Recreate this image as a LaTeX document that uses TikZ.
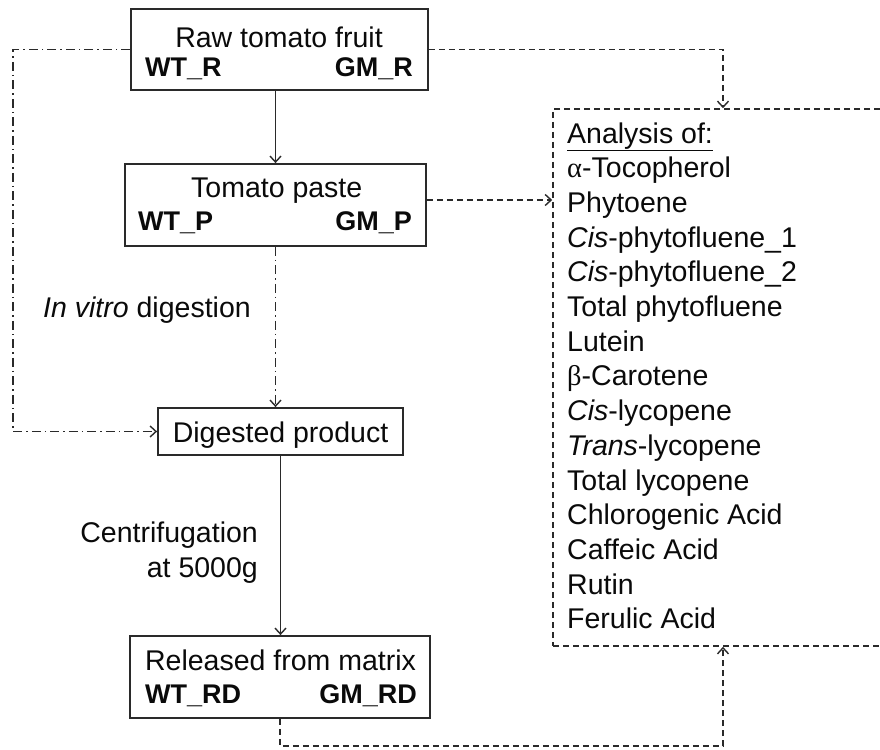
\documentclass[tikz,border=0pt]{standalone}
\usepackage{fontspec}
\setmainfont{Liberation Sans}
\newfontfamily\grk{Liberation Serif}
\usetikzlibrary{arrows.meta}
\definecolor{ln}{HTML}{2A2A2A}
\definecolor{tx}{HTML}{0A0A0A}
\tikzset{
  box/.style={draw=ln, line width=1.8pt, rectangle, inner sep=0pt, fill=none},
  txt/.style={inner sep=0pt, text=tx, font=\fontsize{28.5}{34}\selectfont},
  btxt/.style={inner sep=0pt, text=tx, font=\fontsize{27}{32}\bfseries},
  arr/.style={-{Straight Barb[length=6pt,width=11pt,line width=1.4pt]}},
  solidline/.style={draw=ln, line width=1.6pt},
  dashline/.style={draw=ln, line width=1.6pt, dash pattern=on 6pt off 4pt},
  dotdash/.style={draw=ln, line width=1.5pt, dash pattern=on 9pt off 4pt on 1.5pt off 4pt}
}
\begin{document}
\begin{tikzpicture}[x=1pt,y=-1pt]
\useasboundingbox (0,0) rectangle (880,749);
\clip (0,0) rectangle (880,749);
\fill[white] (0,0) rectangle (880,749);

% boxes
\node[box, minimum width=297pt, minimum height=81pt] (raw) at (279.5,49.5) {};
\node[box, minimum width=301pt, minimum height=82pt] (paste) at (275.5,205) {};
\node[box, minimum width=245pt, minimum height=47pt] (dig) at (280.5,431.5) {};
\node[box, minimum width=300pt, minimum height=82pt] (rel) at (280,677) {};
\node[box, dash pattern=on 6pt off 4pt, line width=1.6pt, minimum width=360pt, minimum height=537pt] (ana) at (733,377.5) {};

% texts in boxes
\node[txt, anchor=base] (rawt) at (279,48) {Raw tomato fruit};
\node[btxt, anchor=base west] (wtr) at (145,77) {WT\_R};
\node[btxt, anchor=base east] (gmr) at (413,77) {GM\_R};
\node[txt, anchor=base] (pastet) at (276.7,197) {Tomato paste};
\node[btxt, anchor=base west] (wtp) at (138,230) {WT\_P};
\node[btxt, anchor=base east] (gmp) at (412,230) {GM\_P};
\node[txt, anchor=base] (digt) at (280.5,442) {Digested product};
\node[txt, anchor=base] (relt) at (280.5,670) {Released from matrix};
\node[btxt, anchor=base west] (wtrd) at (145,703) {WT\_RD};
\node[btxt, anchor=base east] (gmrd) at (417,703) {GM\_RD};

% labels
\node[txt, anchor=base west] (invitro) at (43,317) {\textit{In vitro} digestion};
\node[txt, anchor=base east] (cent1) at (258,542) {Centrifugation};
\node[txt, anchor=base east] (cent2) at (258,577) {at 5000g};

% analysis list
\foreach \t [count=\i from 0] in {
  {\underline{Analysis of:}},
  {{\grk α}-Tocopherol},
  {Phytoene},
  {\textit{Cis}-phytofluene\_1},
  {\textit{Cis}-phytofluene\_2},
  {Total phytofluene},
  {Lutein},
  {{\grk β}-Carotene},
  {\textit{Cis}-lycopene},
  {\textit{Trans}-lycopene},
  {Total lycopene},
  {Chlorogenic Acid},
  {Caffeic Acid},
  {Rutin},
  {Ferulic Acid}}
{
  \node[txt, anchor=base west] (l\i) at (567,143+34.7*\i) {\t};
}

% helper coordinates
\coordinate (lx) at (13,0);
\coordinate (ax) at (723,0);
\coordinate (py) at (0,200);
\coordinate (by) at (0,746);

% connectors
\draw[solidline, arr] (raw.south -| paste.north) -- (paste.north);
\draw[dotdash, arr] (paste.south) -- (paste.south |- dig.north);
\draw[solidline, arr] (dig.south) -- (dig.south |- rel.north);
\draw[dotdash, arr] (raw.west) -- (raw.west -| lx) |- (dig.west);
\draw[dashline, arr] (raw.east) -| (ax |- ana.north);
\draw[dashline, arr] (paste.east |- py) -- (ana.west |- py);
\draw[dashline, arr] (rel.south) -- (rel.south |- by) -| (ax |- ana.south);
\end{tikzpicture}
\end{document}
